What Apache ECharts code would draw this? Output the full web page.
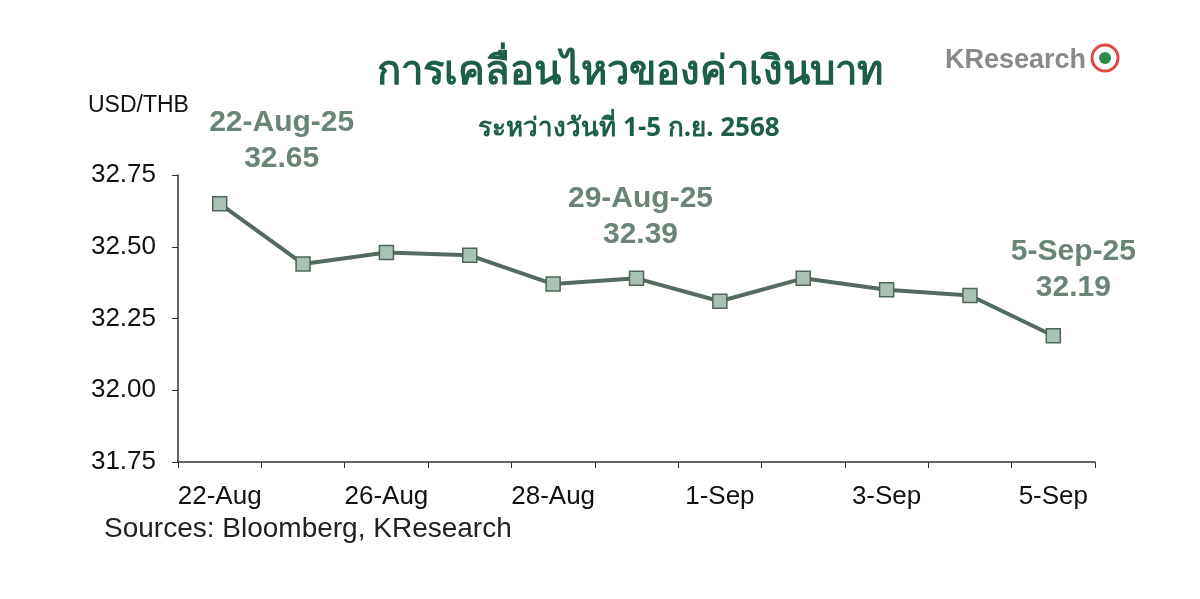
<!DOCTYPE html>
<html><head><meta charset="utf-8">
<script src="https://cdn.jsdelivr.net/npm/echarts@6/dist/echarts.min.js"></script>
<style>html,body{margin:0;background:#fff}#c{width:1200px;height:599px}</style>
</head><body><div id="c"></div>
<script>
const categories = ['22-Aug','25-Aug','26-Aug','27-Aug','28-Aug','29-Aug','1-Sep','2-Sep','3-Sep','4-Sep','5-Sep'];
const values = [32.65,32.44,32.48,32.47,32.37,32.39,32.31,32.39,32.35,32.33,32.19];
const shownLabels = ['22-Aug','26-Aug','28-Aug','1-Sep','3-Sep','5-Sep'];
const annotations = [
  {idx:0, text:'22-Aug-25\n32.65', dx:62, dy:-14},
  {idx:5, text:'29-Aug-25\n32.39', dx:4, dy:-13},
  {idx:10, text:'5-Sep-25\n32.19', dx:20, dy:-17}
];
const chart = echarts.init(document.getElementById('c'));
const data = values.map((v,i)=>{
  const a = annotations.find(x=>x.idx===i);
  if(!a) return v;
  return {value:v, label:{show:true, formatter:a.text, offset:[a.dx,a.dy]}};
});
chart.setOption({
  animation:false,
  title:[
    {text:'การเคลื่อนไหวของค่าเงินบาท', left:625, top:48, textAlign:'center',
     textStyle:{fontFamily:'Noto Sans', fontSize:40, fontWeight:'bold', color:'#1d5e4b'}},
    {text:'ระหว่างวันที่ 1-5 ก.ย. 2568', left:624, top:111, textAlign:'center',
     textStyle:{fontFamily:'Noto Sans', fontSize:26, fontWeight:'bold', color:'#1d5e4b'}},
    {text:'KResearch', left:940, top:42,
     textStyle:{fontFamily:'Arial', fontSize:27, fontWeight:'bold', color:'#8a8a8a'}},
    {text:'Sources: Bloomberg, KResearch', left:99, top:510,
     textStyle:{fontFamily:'Liberation Sans', fontSize:28, fontWeight:'normal', color:'#222'}}
  ],
  graphic:[{type:'circle', shape:{cx:1105, cy:58, r:13}, style:{fill:'#fff', stroke:'#e0473f', lineWidth:3}},
           {type:'circle', shape:{cx:1105, cy:58, r:6}, style:{fill:'#2f8a4a'}}],
  grid:{left:178, right:105, top:175, bottom:137},
  xAxis:{type:'category', data:categories, boundaryGap:true,
    axisLine:{lineStyle:{color:'#333', width:1.5}},
    axisTick:{show:true, interval:0, length:6, lineStyle:{color:'#333'}},
    axisLabel:{interval:0, margin:22, fontFamily:'Liberation Sans', fontSize:26, color:'#111',
      formatter:v=>shownLabels.includes(v)?v:''}},
  yAxis:{type:'value', min:31.75, max:32.75, interval:0.25,
    name:'USD/THB', nameLocation:'end', nameGap:58,
    nameTextStyle:{fontFamily:'Liberation Sans', fontSize:23, color:'#111', align:'left', padding:[0,0,0,-90]},
    axisLine:{show:true, lineStyle:{color:'#333', width:1.5}},
    axisTick:{show:true, length:6, lineStyle:{color:'#333'}},
    splitLine:{show:false},
    axisLabel:{fontFamily:'Liberation Sans', fontSize:26, color:'#111', margin:22, formatter:v=>v.toFixed(2)}},
  series:[{type:'line', data:data, symbol:'rect', symbolSize:14,
    lineStyle:{color:'#556b5f', width:4},
    itemStyle:{color:'#a9c2b3', borderColor:'#4f6658', borderWidth:1.5},
    label:{show:false, fontFamily:'Liberation Sans', fontSize:30, fontWeight:'bold', color:'#6a8576', lineHeight:36, align:'center'}}]
});
</script></body></html>
